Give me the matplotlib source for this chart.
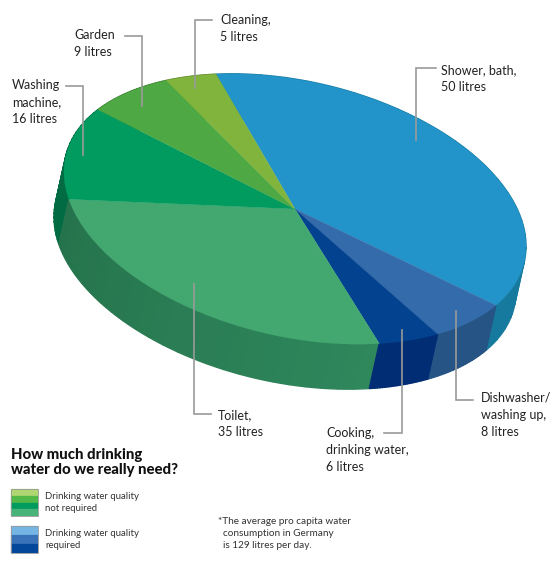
import numpy as np
import matplotlib
matplotlib.use("Agg")
import matplotlib.pyplot as plt
from matplotlib.colors import to_rgb
from matplotlib.patches import Polygon, Rectangle

labels = ["Shower, bath,\n50 litres", "Dishwasher/\nwashing up,\n8 litres", "Cooking,\ndrinking water,\n6 litres",
          "Toilet,\n35 litres", "Washing\nmachine,\n16 litres", "Garden\n9 litres", "Cleaning,\n5 litres"]
values = [50, 8, 6, 35, 16, 9, 5]
top_colors = ["#2394c9", "#346bab", "#02428f", "#43a870", "#019a5f", "#4ea843", "#80b43c"]
wall_start = ["#167a9e", "#265485", "#012d75", "#2f875c", "#016b43", "#3a7d32", "#5f862c"]
wall_end = ["#167a9e", "#265485", "#012d75", "#25734c", "#016b43", "#3a7d32", "#5f862c"]
legend_green = ["#b0d672", "#52b848", "#019a5f", "#48b47a"]
legend_blue = ["#74b5e4", "#3a72b8", "#02479a"]

cx, cy, ax_a, skew, ax_b = 295, 209, 231, 37, 130
dx, dy = -10, 45
start = 250

def rim(t):
    t = np.asarray(t, dtype=float)
    w = ((t - 170 + 180) % 360) - 180
    t = np.radians(t + 2.0*np.exp(-(w/35)**2))   # slight perspective distortion of the drawn pie
    return np.column_stack([cx + ax_a*np.cos(t), cy + skew*np.cos(t) + ax_b*np.sin(t)])

fig = plt.figure(figsize=(5.58, 5.67), dpi=100)
ax = fig.add_axes([0, 0, 1, 1])
ax.set_xlim(0, 558); ax.set_ylim(567, 0); ax.axis("off")
plt.rcParams['font.family'] = ['Lato', 'DejaVu Sans']

edges = start + np.concatenate([[0], np.cumsum(values)]) * 360 / sum(values)
order = np.argsort([rim([(edges[i]+edges[i+1])/2])[0, 1] for i in range(len(values))])
for i in order:
    n = 24
    ts = np.linspace(edges[i], edges[i+1], n + 1)
    c0, c1 = np.array(to_rgb(wall_start[i])), np.array(to_rgb(wall_end[i]))
    for k in range(n):
        p = rim(np.linspace(ts[k], ts[k+1], 6))
        c = c0 + (c1 - c0) * k / (n - 1)
        ax.add_patch(Polygon(np.vstack([p, (p + [dx, dy])[::-1]]), fc=c, ec=c, lw=1.0, zorder=2))
for i in range(len(values)):
    p = rim(np.linspace(edges[i], edges[i+1], 80))
    ax.add_patch(Polygon(np.vstack([[cx, cy], p]), fc=top_colors[i], ec=top_colors[i], lw=0.2, zorder=3))

leaders = [
    [(436, 68), (416, 68), (416, 140)],
    [(473, 400), (456, 400), (456, 311)],
    [(384, 433), (402, 433), (402, 330)],
    [(211, 414), (194, 414), (194, 284)],
    [(66, 86), (83, 86), (83, 155)],
    [(125, 36), (142, 36), (142, 106)],
    [(212, 19.5), (195, 19.5), (195, 88)],
]
for l in leaders:
    xs, ys = zip(*l)
    ax.plot(xs, ys, color="#9a9a9a", lw=1.2, zorder=4, solid_joinstyle="miter")

fs = 9.0
pos = [(441, 64), (481, 392), (326, 427), (218, 409), (12, 79), (74, 29), (220, 14)]
for (x, y), s in zip(pos, labels):
    ax.text(x, y, s, fontsize=fs, color="#222222", va="top", ha="left", linespacing=1.52, zorder=5)

ax.text(11, 448.5, "How much drinking\nwater do we really need?", fontsize=10.7, fontweight=900,
        color="#111111", va="top", linespacing=1.08)
ax.text(45, 492, "Drinking water quality\nnot required", fontsize=6.9, color="#333333", va="top", linespacing=1.4)
ax.text(45, 529, "Drinking water quality\nrequired", fontsize=6.9, color="#333333", va="top", linespacing=1.4)
ax.text(218, 517, "*The average pro capita water\n  consumption in Germany\n  is 129 litres per day.", fontsize=7.2,
        color="#333333", va="top", linespacing=1.45)

for y0, cols, h in [(489, legend_green, 6.8), (526, legend_blue, 9)]:
    for k, c in enumerate(cols):
        ax.add_patch(Rectangle((11, y0 + k*h), 27, h, fc=c, ec=c, lw=0.2, zorder=3))
    ax.add_patch(Rectangle((11, y0), 27, h*len(cols), fc="none", ec="#999999", lw=0.6, zorder=4))

fig.savefig("out.png", dpi=100)
